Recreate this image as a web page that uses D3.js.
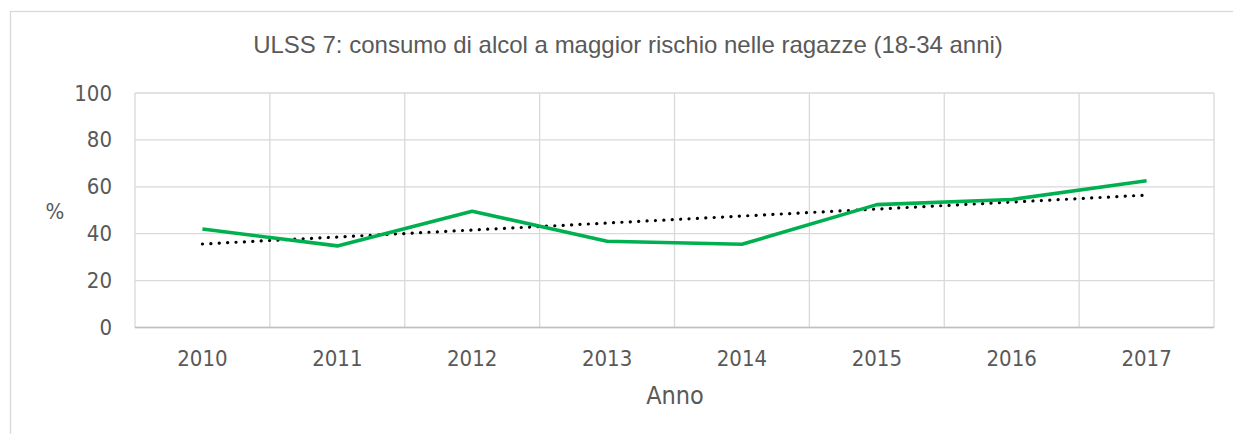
<!DOCTYPE html>
<html><head><meta charset="utf-8">
<script src="https://cdn.jsdelivr.net/npm/d3@7"></script>
<style>body{margin:0;background:#fff}svg{display:block}</style>
</head><body>
<svg id="c" width="1233" height="434"></svg>
<script>
const years = ["2010","2011","2012","2013","2014","2015","2016","2017"];
const values = [42.0, 34.8, 49.6, 36.8, 35.5, 52.4, 54.6, 62.6];
const yTicks = [0, 20, 40, 60, 80, 100];
const title = "ULSS 7: consumo di alcol a maggior rischio nelle ragazze (18-34 anni)";
const xTitle = "Anno";
const yTitle = "%";

const FONT = "'DejaVu Sans Condensed', 'DejaVu Sans'";
const svg = d3.select("#c");
const L = 135, R = 1214, T = 93, B = 327.5;
svg.append("rect").attr("x",10.5).attr("y",11.5).attr("width",1240).attr("height",440)
  .attr("fill","#fff").attr("stroke","#d9d9d9").attr("stroke-width",1.3);

const x = d3.scaleBand().domain(years).range([L,R]).padding(0);
const y = d3.scaleLinear().domain([0,100]).range([B,T]);

// grid
const g = svg.append("g");
g.selectAll(".hg").data(yTicks).join("line")
  .attr("x1",L).attr("x2",R).attr("y1",d=>y(d)).attr("y2",d=>y(d))
  .attr("stroke","#d9d9d9").attr("stroke-width",1.3);
const vlines = years.map(d=>x(d)).concat([R]);
g.selectAll(".vg").data(vlines).join("line")
  .attr("x1",d=>d).attr("x2",d=>d).attr("y1",T).attr("y2",B)
  .attr("stroke","#d9d9d9").attr("stroke-width",1.3);
svg.append("line").attr("x1",L).attr("x2",R).attr("y1",B).attr("y2",B)
  .attr("stroke","#bfbfbf").attr("stroke-width",1.5);

// axes
const yAxis = d3.axisLeft(y).tickValues(yTicks).tickSize(0).tickPadding(23);
const ya = svg.append("g").attr("transform",`translate(${L},0)`).call(yAxis);
ya.select(".domain").remove();
ya.selectAll("text").attr("font-family",FONT).attr("font-size",22).attr("fill","#595959");

const xAxis = d3.axisBottom(x).tickSize(0).tickPadding(23);
const xa = svg.append("g").attr("transform",`translate(0,${B})`).call(xAxis);
xa.select(".domain").remove();
xa.selectAll("text").attr("font-family",FONT).attr("font-size",22).attr("fill","#595959");

// trend line (linear regression of the series)
const n = values.length;
const xs = d3.range(n);
const mx = d3.mean(xs), my = d3.mean(values);
const slope = d3.sum(xs,(i)=>(i-mx)*(values[i]-my))/d3.sum(xs,i=>(i-mx)*(i-mx));
const icpt = my - slope*mx;
const cx = d => x(d) + x.bandwidth()/2;
svg.append("line")
  .attr("x1",cx(years[0])).attr("y1",y(icpt))
  .attr("x2",cx(years[n-1])).attr("y2",y(icpt+slope*(n-1)))
  .attr("stroke","#000").attr("stroke-width",3.2).attr("stroke-linecap","round")
  .attr("stroke-dasharray","0.1 8.3");

// series
const line = d3.line().x((d,i)=>cx(years[i])).y(d=>y(d));
svg.append("path").datum(values).attr("d",line)
  .attr("fill","none").attr("stroke","#00b050").attr("stroke-width",3.6)
  .attr("stroke-linejoin","round");

// titles
svg.append("text").attr("x",628).attr("y",53).attr("text-anchor","middle")
  .attr("font-family","'Liberation Sans', Arial").attr("font-size",24).attr("fill","#595959").text(title);
svg.append("text").attr("x",675).attr("y",404).attr("text-anchor","middle")
  .attr("font-family",FONT).attr("font-size",25).attr("fill","#595959").text(xTitle);
svg.append("text").attr("x",55).attr("y",219).attr("text-anchor","middle")
  .attr("font-family",FONT).attr("font-size",22).attr("fill","#595959").text(yTitle);
</script>
</body></html>
